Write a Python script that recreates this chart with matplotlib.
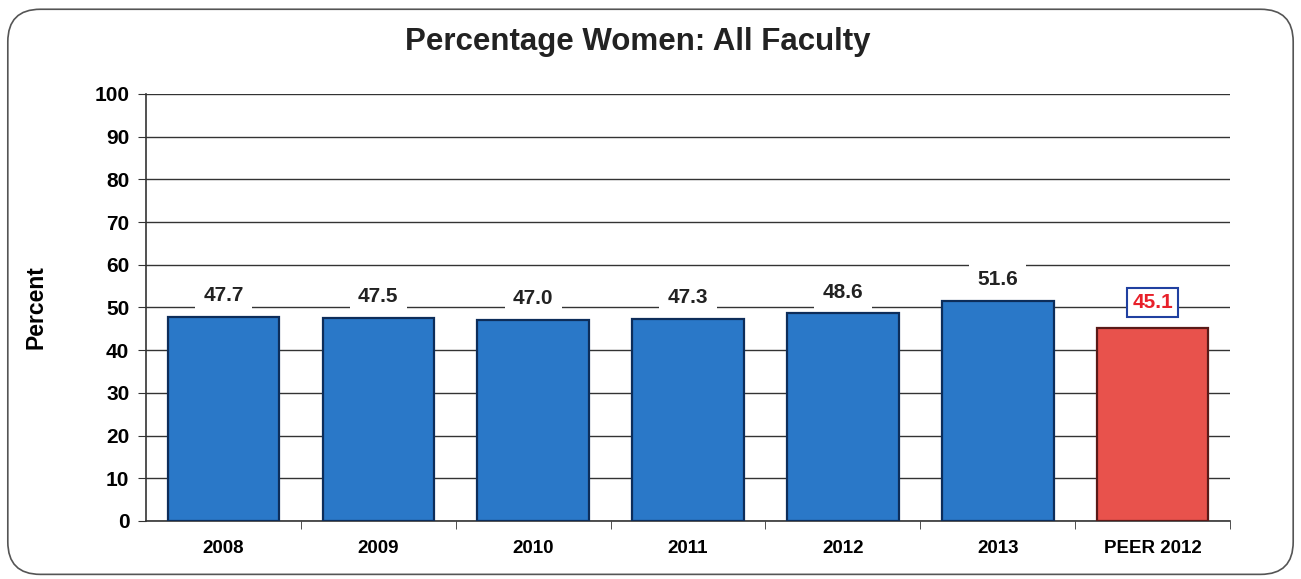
import matplotlib
matplotlib.use("Agg")
import matplotlib.pyplot as plt
from matplotlib.patches import FancyBboxPatch

categories = ["2008", "2009", "2010", "2011", "2012", "2013", "PEER 2012"]
values = [47.7, 47.5, 47.0, 47.3, 48.6, 51.6, 45.1]
labels = ["47.7", "47.5", "47.0", "47.3", "48.6", "51.6", "45.1"]
yticks = [0, 10, 20, 30, 40, 50, 60, 70, 80, 90, 100]

plt.rcParams['font.family'] = ['Liberation Sans', 'DejaVu Sans']

fig = plt.figure(figsize=(13.01, 5.79), dpi=100)
fig.patch.set_facecolor('white')

border = FancyBboxPatch((0.006, 0.008), 0.988, 0.976, boxstyle="round,pad=0,rounding_size=0.025",
                        transform=fig.transFigure, facecolor='none', edgecolor='#555555',
                        linewidth=1.2, mutation_aspect=1301/579, zorder=-10)
fig.patches.append(border)

ax = fig.add_axes([0.1122, 0.1002, 0.8333, 0.7375])
ax.set_facecolor('none')
ax.set_zorder(5)

x = list(range(len(categories)))
colors = ['#2a78c8'] * 6 + ['#e8524c']
edges = ['#0d2d5a'] * 6 + ['#5a1a18']
ax.bar(x, values, width=0.72, color=colors, edgecolor=edges, linewidth=1.6, zorder=3)

ax.set_xlim(-0.5, len(categories) - 0.5)
ax.set_ylim(0, 100)
ax.set_yticks(yticks)
ax.set_yticklabels([str(t) for t in yticks], fontsize=15, fontweight='bold')
ax.yaxis.grid(True, color='#333333', linewidth=1.0, zorder=0)
ax.set_axisbelow(True)

ax.set_xticks(x)
ax.set_xticklabels(categories, fontsize=13.5, fontweight='bold')
ax.tick_params(axis='x', length=0, pad=14)
ax.set_xticks([i + 0.5 for i in x[:-1]] + [len(categories) - 0.5], minor=True)
ax.tick_params(axis='x', which='minor', length=6, direction='out', color='#333333')
ax.tick_params(axis='y', length=6, direction='out', color='#333333', pad=6)

for s in ['top', 'right']:
    ax.spines[s].set_visible(False)
ax.spines['left'].set_color('#333333')
ax.spines['bottom'].set_color('#333333')
ax.spines['left'].set_linewidth(1.2)
ax.spines['bottom'].set_linewidth(1.2)

for i, (v, lab) in enumerate(zip(values, labels)):
    if i == len(values) - 1:
        ax.text(i, v + 6.0, lab, ha='center', va='center', fontsize=15, fontweight='bold',
                color='#e8202a', zorder=5,
                bbox=dict(boxstyle='square,pad=0.25', facecolor='white', edgecolor='#2040a0', linewidth=1.5))
    else:
        ax.text(i, v + 5.0, lab, ha='center', va='center', fontsize=15, fontweight='bold',
                color='#222222', zorder=5,
                bbox=dict(boxstyle='square,pad=0.4', facecolor='white', edgecolor='none'))

ax.set_ylabel("Percent", fontsize=16.5, fontweight='bold', labelpad=34)

fig.text(0.49, 0.927, "Percentage Women: All Faculty", ha='center', va='center',
         fontsize=22.5, fontweight='bold', color='#222222')

fig.savefig("out.png", dpi=100)
